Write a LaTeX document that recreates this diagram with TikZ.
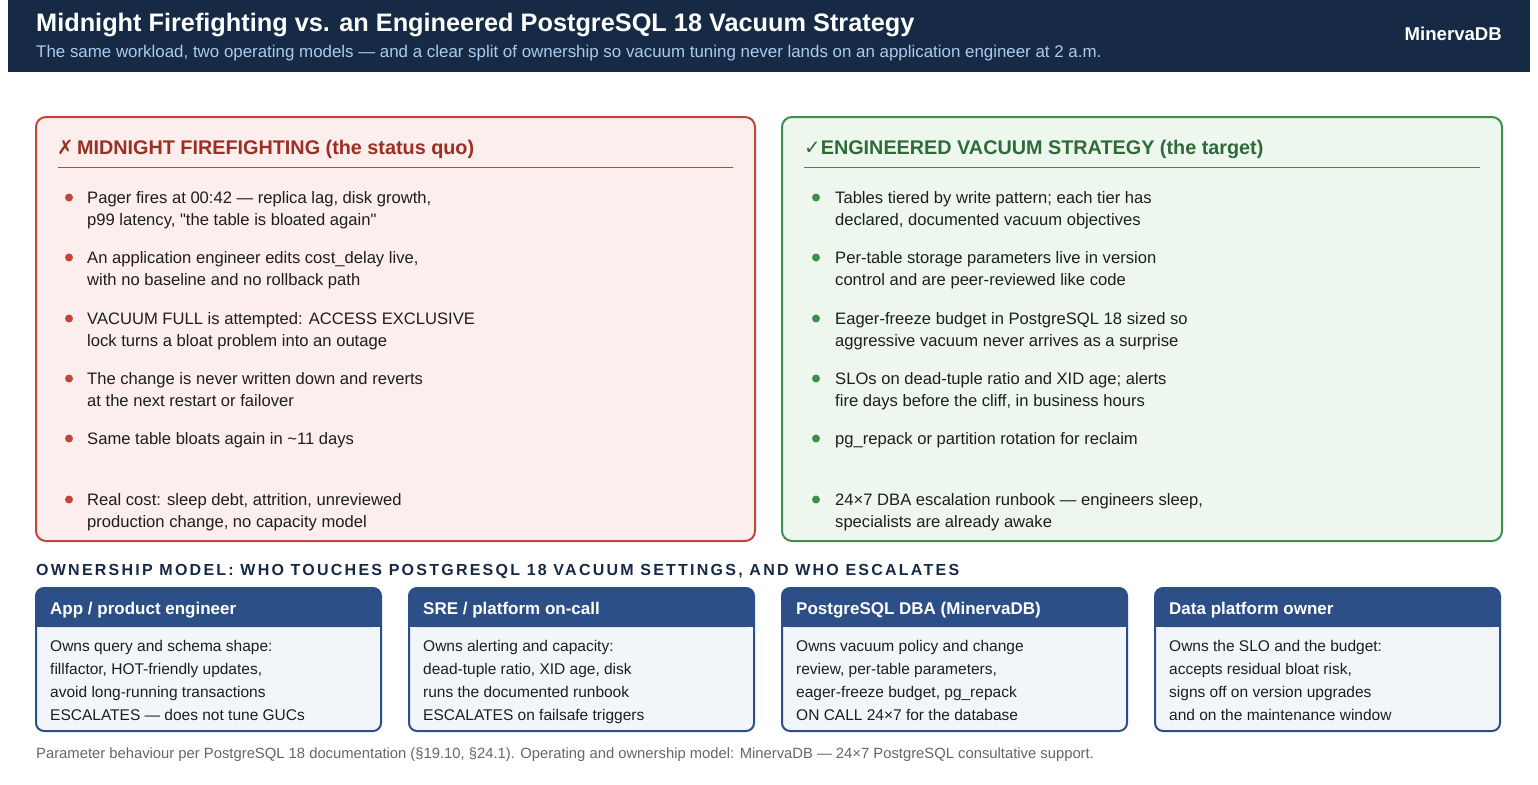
\documentclass[tikz,border=0pt]{standalone}
\usepackage{fontspec}
\setmainfont{Liberation Sans}
\newfontfamily\symf{DejaVu Sans}
\definecolor{navy}{HTML}{172A45}
\definecolor{subblue}{HTML}{A9CBEF}
\definecolor{redf}{HTML}{FBEEEC}
\definecolor{redd}{HTML}{C0463A}
\definecolor{redt}{HTML}{9B2F24}
\definecolor{grnf}{HTML}{EEF7EE}
\definecolor{grnd}{HTML}{3E8E4C}
\definecolor{grnt}{HTML}{2F6B3A}
\definecolor{cardh}{HTML}{2B4F86}
\definecolor{cardb}{HTML}{F2F6FB}
\definecolor{txt}{HTML}{1E1E1E}
\definecolor{foot}{HTML}{666666}
\tikzset{
  tx/.style={anchor=base west,inner sep=0,text=txt,font=\fontsize{16.6}{19}\selectfont},
  ctx/.style={anchor=base west,inner sep=0,text=txt,font=\fontsize{15.5}{18}\selectfont},
  chd/.style={anchor=base west,inner sep=0,text=white,font=\fontsize{17}{20}\selectfont\bfseries},
}
\begin{document}
\begin{tikzpicture}[x=1pt,y=-1pt]
\useasboundingbox (0,0) rectangle (1538,784);
\fill[white] (0,0) rectangle (1538,784);
% header
\fill[navy] (8,0) rectangle (1530,72);
\node[anchor=base west,inner sep=0,text=white,font=\fontsize{25.3}{28}\selectfont\bfseries] (title) at (36,32) {Midnight Firefighting vs. an Engineered PostgreSQL 18 Vacuum Strategy};
\node[anchor=base west,inner sep=0,text=subblue,font=\fontsize{16.9}{19}\selectfont] (sub) at (36,58) {The same workload, two operating models — and a clear split of ownership so vacuum tuning never lands on an application engineer at 2 a.m.};
\node[anchor=base east,inner sep=0,text=white,font=\fontsize{18.6}{21}\selectfont\bfseries] (brand) at (1502,41) {MinervaDB};
% left panel
\draw[redd,line width=2,fill=redf,rounded corners=10] (36,117) rectangle (755,541);
\node[anchor=base west,inner sep=0,text=redt,font=\fontsize{19.8}{22}\selectfont\bfseries] (lt) at (57,154) {{\symf ✗}\,MIDNIGHT FIREFIGHTING (the status quo)};
\draw[redd,line width=1] (58,167) -- (733,167);
\foreach \i/\y/\a/\b in {1/203/{Pager fires at 00:42 — replica lag, disk growth,}/{p99 latency, \textquotedbl the table is bloated again\textquotedbl},
 2/263/{An application engineer edits cost\_delay live,}/{with no baseline and no rollback path},
 3/324/{VACUUM FULL is attempted: ACCESS EXCLUSIVE}/{lock turns a bloat problem into an outage},
 4/384/{The change is never written down and reverts}/{at the next restart or failover},
 5/444/{Same table bloats again in \textasciitilde 11 days}/{},
 6/505/{Real cost: sleep debt, attrition, unreviewed}/{production change, no capacity model}}{
  \fill[redd] (69,\y-5.5) circle (4);
  \node[tx] (l\i a) at (87,\y) {\a};
  \node[tx] (l\i b) at (87,\y+22) {\b};
}
% right panel
\draw[grnd,line width=2,fill=grnf,rounded corners=10] (782,117) rectangle (1502,541);
\node[anchor=base west,inner sep=0,text=grnt,font=\fontsize{19.8}{22}\selectfont\bfseries] (rt) at (804,154) {{\symf\bfseries ✓}ENGINEERED VACUUM STRATEGY (the target)};
\draw[grnd,line width=1] (804,167) -- (1480,167);
\foreach \i/\y/\a/\b in {1/203/{Tables tiered by write pattern; each tier has}/{declared, documented vacuum objectives},
 2/263/{Per-table storage parameters live in version}/{control and are peer-reviewed like code},
 3/324/{Eager-freeze budget in PostgreSQL 18 sized so}/{aggressive vacuum never arrives as a surprise},
 4/384/{SLOs on dead-tuple ratio and XID age; alerts}/{fire days before the cliff, in business hours},
 5/444/{pg\_repack or partition rotation for reclaim}/{},
 6/505/{24×7 DBA escalation runbook — engineers sleep,}/{specialists are already awake}}{
  \fill[grnd] (816,\y-5.5) circle (4);
  \node[tx] (r\i a) at (835,\y) {\a};
  \node[tx] (r\i b) at (835,\y+22) {\b};
}
% ownership
\node[anchor=base west,inner sep=0,text=navy,font=\fontsize{16}{19}\selectfont\bfseries\addfontfeature{LetterSpace=14}] (own) at (36,575) {OWNERSHIP MODEL: WHO TOUCHES POSTGRESQL 18 VACUUM SETTINGS, AND WHO ESCALATES};
\foreach \i/\x/\h/\a/\b/\c/\d in {
 1/36/{App / product engineer}/{Owns query and schema shape:}/{fillfactor, HOT-friendly updates,}/{avoid long-running transactions}/{ESCALATES — does not tune GUCs},
 2/409/{SRE / platform on-call}/{Owns alerting and capacity:}/{dead-tuple ratio, XID age, disk}/{runs the documented runbook}/{ESCALATES on failsafe triggers},
 3/782/{PostgreSQL DBA (MinervaDB)}/{Owns vacuum policy and change}/{review, per-table parameters,}/{eager-freeze budget, pg\_repack}/{ON CALL 24×7 for the database},
 4/1155/{Data platform owner}/{Owns the SLO and the budget:}/{accepts residual bloat risk,}/{signs off on version upgrades}/{and on the maintenance window}}{
  \fill[cardb,rounded corners=8] (\x,588) rectangle (\x+345,731);
  \fill[cardh,rounded corners=8] (\x,588) rectangle (\x+345,627);
  \fill[cardh] (\x,612) rectangle (\x+345,627);
  \draw[cardh,line width=2,rounded corners=8] (\x,588) rectangle (\x+345,731);
  \node[chd] (c\i h) at (\x+14,614) {\h};
  \node[ctx] (c\i a) at (\x+14,651) {\a};
  \node[ctx] (c\i b) at (\x+14,674) {\b};
  \node[ctx] (c\i c) at (\x+14,697) {\c};
  \node[ctx] (c\i d) at (\x+14,720) {\d};
}
\node[anchor=base west,inner sep=0,text=foot,font=\fontsize{14.8}{17}\selectfont] (ft) at (36,758) {Parameter behaviour per PostgreSQL 18 documentation (§19.10, §24.1). Operating and ownership model: MinervaDB — 24×7 PostgreSQL consultative support.};
\end{tikzpicture}
\end{document}
